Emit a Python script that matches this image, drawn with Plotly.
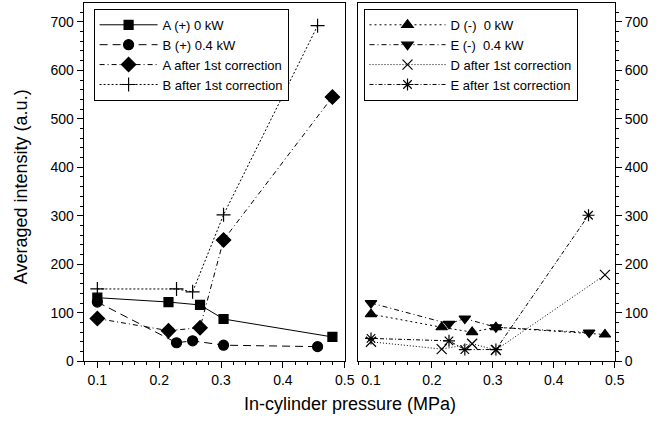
import plotly.graph_objects as go

# ---- data ----
# Left panel
A0_x = [0.100, 0.215, 0.266, 0.304, 0.480]
A0_y = [131, 122, 116, 87, 50]
B04_x = [0.100, 0.228, 0.254, 0.304, 0.456]
B04_y = [122, 38, 42, 33, 30]
Acor_x = [0.100, 0.215, 0.266, 0.304, 0.480]
Acor_y = [88, 63, 69, 250, 545]
Bcor_x = [0.100, 0.228, 0.254, 0.304, 0.456]
Bcor_y = [149, 149, 143, 302, 692]

# Right panel
D0_x = [0.100, 0.216, 0.266, 0.305, 0.484]
D0_y = [97, 70, 60, 70, 55]
E04_x = [0.100, 0.228, 0.254, 0.305, 0.458]
E04_y = [120, 77, 88, 70, 59]
Dcor_x = [0.100, 0.216, 0.266, 0.305, 0.484]
Dcor_y = [40, 25, 36, 23, 178]
Ecor_x = [0.100, 0.228, 0.254, 0.305, 0.457]
Ecor_y = [47, 42, 24, 24, 301]

x_ticks = [0.1, 0.2, 0.3, 0.4, 0.5]
y_ticks = [0, 100, 200, 300, 400, 500, 600, 700]

FONT = "Liberation Sans, Arial, sans-serif"
K = "black"

fig = go.Figure()

def add(x, y, name, dash, symbol, xa, ya, leg, size=9, lw=1):
    fig.add_trace(go.Scatter(
        x=x, y=y, name=name, mode="lines+markers",
        xaxis=xa, yaxis=ya, legend=leg,
        line=dict(color=K, width=lw, dash=dash),
        marker=dict(symbol=symbol, size=size, color=K,
                    line=dict(color=K, width=1.2)),
    ))

add(A0_x, A0_y, "A (+) 0 kW", "solid", "square", "x", "y", "legend", size=9)
add(B04_x, B04_y, "B (+) 0.4 kW", "8px,5px", "circle", "x", "y", "legend", size=10)
add(Acor_x, Acor_y, "A after 1st correction", "5px,3px,1px,3px", "diamond", "x", "y", "legend", size=11)
add(Bcor_x, Bcor_y, "B after 1st correction", "2px,2px", "cross-thin", "x", "y", "legend", size=10)

add(D0_x, D0_y, "D (-)  0 kW", "2px,3px", "triangle-up", "x2", "y2", "legend2", size=10)
add(E04_x, E04_y, "E (-)  0.4 kW", "5px,3px,1px,3px", "triangle-down", "x2", "y2", "legend2", size=10)
add(Dcor_x, Dcor_y, "D after 1st correction", "1px,2px", "x-thin", "x2", "y2", "legend2", size=10)
add(Ecor_x, Ecor_y, "E after 1st correction", "4px,2px,1px,2px", "asterisk-open", "x2", "y2", "legend2", size=10)

W, H = 672, 432
ydom = [(H - 368) / H, (H - 3) / H]
xr = [0.078, 0.5]
yr = [0, 739]

common_x = dict(
    range=xr, tickvals=x_ticks, ticktext=[str(v) for v in x_ticks],
    showline=True, linecolor=K, linewidth=1.3, mirror=True,
    ticks="outside", ticklen=6, tickwidth=1.2, tickcolor=K,
    minor=dict(dtick=0.02, tick0=0, ticks="outside", ticklen=3, tickcolor=K, tickwidth=1),
    showgrid=False, zeroline=False,
    tickfont=dict(family=FONT, size=14, color=K),
)
common_y = dict(
    range=yr, domain=ydom, tickvals=y_ticks,
    showline=True, linecolor=K, linewidth=1.3, mirror=True,
    ticks="outside", ticklen=6, tickwidth=1.2, tickcolor=K,
    minor=dict(dtick=20, tick0=0, ticks="outside", ticklen=3, tickcolor=K, tickwidth=1),
    showgrid=False, zeroline=False,
    tickfont=dict(family=FONT, size=14, color=K),
)

leg_common = dict(yanchor="top", xanchor="left", bgcolor="white", bordercolor=K,
                  borderwidth=1, font=dict(family=FONT, size=13, color=K),
                  tracegroupgap=0)

fig.update_layout(
    width=W, height=H,
    margin=dict(l=0, r=0, t=0, b=0),
    paper_bgcolor="white", plot_bgcolor="white",
    font=dict(family=FONT, size=14, color=K),
    xaxis=dict(domain=[85 / W, 350 / W], anchor="y", **common_x),
    yaxis=dict(anchor="x", side="left", **common_y),
    xaxis2=dict(domain=[363 / W, 624 / W], anchor="y2", **common_x),
    yaxis2=dict(anchor="x2", side="right", **common_y),
    legend=dict(x=95 / W, y=(H - 9) / H, itemwidth=58, **leg_common),
    legend2=dict(x=369 / W, y=(H - 9) / H, itemwidth=76, **leg_common),
    annotations=[
        dict(text="Averaged intensity (a.u.)", xref="paper", yref="paper",
             x=22 / W, y=(H - 190) / H, xanchor="center", yanchor="middle",
             textangle=-90, showarrow=False,
             font=dict(family=FONT, size=18, color=K)),
        dict(text="In-cylinder pressure (MPa)", xref="paper", yref="paper",
             x=355 / W, y=(H - 412) / H, xanchor="center", yanchor="middle",
             showarrow=False,
             font=dict(family=FONT, size=18, color=K)),
    ],
)

fig.write_html("out.html")
